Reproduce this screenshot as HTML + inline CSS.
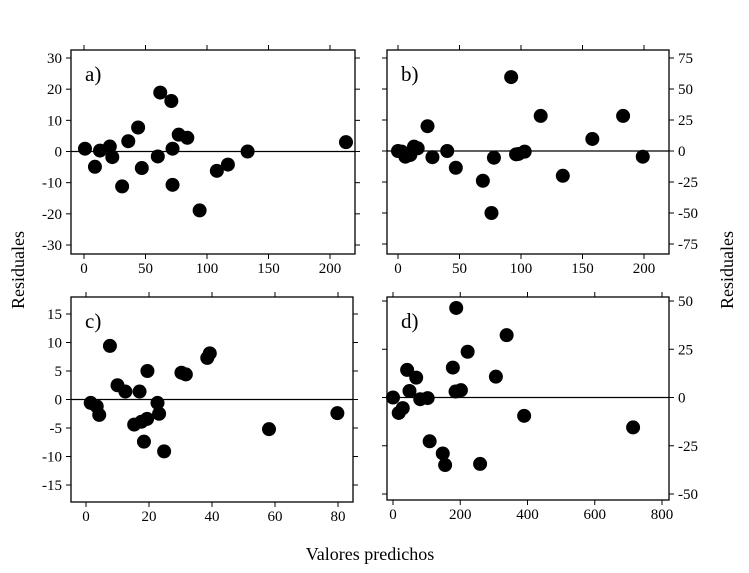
<!DOCTYPE html>
<html><head><meta charset="utf-8"><style>
body{margin:0;background:#fff;}
svg{display:block;font-family:"Liberation Serif",serif;}
</style></head><body>
<svg id="chart" width="749" height="573" viewBox="0 0 749 573" xmlns="http://www.w3.org/2000/svg">
<text x="0" y="0" transform="translate(24,270) rotate(-90)" text-anchor="middle" font-size="18">Residuales</text>
<text x="0" y="0" transform="translate(733,270) rotate(-90)" text-anchor="middle" font-size="18">Residuales</text>
<text x="370" y="560" text-anchor="middle" font-size="18">Valores predichos</text>
</svg>
<script>
const aX=[0.8,8.9,13,21,23,31,36,44,47,60,62,71,72,72,77,84,94,108,117,133,213];
const aY=[0.9,-4.9,0.3,1.6,-1.8,-11.2,3.3,7.7,-5.3,-1.6,18.9,16.2,0.9,-10.7,5.4,4.4,-18.9,-6.2,-4.2,0,3.0];
const bX=[0,3,6,10,13,16,24,28,40,47,69,76,78,92,96,98,103,116,134,158,183,199];
const bY=[0,-0.5,-4.6,-3.2,3.5,2.2,20,-5,0,-13.5,-24,-50,-5.4,59.6,-2.7,-2.4,-0.5,28.3,-20,9.7,28.3,-4.6];
const cX=[1.5,3.4,4.2,7.6,10,12.5,17,15.3,17.6,19.4,18.4,19.5,22.7,23.2,24.8,30.3,31.7,38.5,39.3,58.1,79.8];
const cY=[-0.6,-1.2,-2.7,9.4,2.5,1.4,1.4,-4.4,-3.9,-3.4,-7.4,5.0,-0.6,-2.5,-9.1,4.7,4.4,7.3,8.1,-5.2,-2.4];
const dX=[0,17,29,42,49,69,81,103,109,148,155,178,186,188,202,222,259,306,338,390,714];
const dY=[0,-8,-5.5,14.3,3.4,10.3,-0.9,-0.3,-22.7,-29,-35,15.5,3.1,46.4,3.8,23.7,-34.4,10.8,32.3,-9.5,-15.5];
const aXT=[0,50,100,150,200], aYT=[30,20,10,0,-10,-20,-30];
const bXT=[0,50,100,150,200], bYT=[75,50,25,0,-25,-50,-75];
const cXT=[0,20,40,60,80], cYT=[15,10,5,0,-5,-10,-15];
const dXT=[0,200,400,600,800], dYT=[50,25,0,-25,-50];

const NS="http://www.w3.org/2000/svg";
const svg=document.getElementById('chart');
function mk(t,a){const e=document.createElementNS(NS,t);for(const k in a)e.setAttribute(k,a[k]);svg.appendChild(e);return e;}
function panel(p){
  const sx=v=>p.x0+(v-p.xv0)/(p.xv1-p.xv0)*(p.x1-p.x0);
  const sy=v=>p.y0+(v-p.yv0)/(p.yv1-p.yv0)*(p.y1-p.y0);
  const box=mk('rect',{x:p.L,y:p.T,width:p.R-p.L,height:p.B-p.T,fill:'none',stroke:'#000','stroke-width':1.3});
  
  
  const z=mk('line',{x1:p.L,x2:p.R,y1:sy(0),y2:sy(0),stroke:'#000','stroke-width':1.3});
  
  
  p.xt.forEach(v=>{
    const x=sx(v);
    mk('line',{x1:x,x2:x,y1:p.B,y2:p.B+5,stroke:'#000'});
    mk('line',{x1:x,x2:x,y1:p.T,y2:p.T-5,stroke:'#000'});
    const t=mk('text',{x:x,y:p.B+19,'text-anchor':'middle','font-size':15});
    t.textContent=v;
    
    
  });
  p.yt.forEach(v=>{
    const y=sy(v);
    mk('line',{x1:p.L,x2:p.L-5,y1:y,y2:y,stroke:'#000'});
    mk('line',{x1:p.R,x2:p.R+5,y1:y,y2:y,stroke:'#000'});
    const t=mk('text',{x:p.left?p.L-9:p.R+9,y:y+5,'text-anchor':p.left?'end':'start','font-size':15});
    t.textContent=v;
    
    
  });
  const lab=mk('text',{x:p.L+14,y:p.T+31,'font-size':21});
  lab.textContent=p.id+')';
  
  
  p.X.forEach((v,i)=>{
    const c=mk('circle',{cx:sx(v),cy:sy(p.Y[i]),r:7,fill:'#000'});
    
    
  });
}
panel({id:'a',L:71,R:355,T:50,B:254,x0:84,x1:330,xv0:0,xv1:200,y0:58,y1:245,yv0:30,yv1:-30,xt:aXT,yt:aYT,X:aX,Y:aY,left:true});
panel({id:'b',L:387,R:669,T:50,B:254,x0:398,x1:644,xv0:0,xv1:200,y0:58,y1:244,yv0:75,yv1:-75,xt:bXT,yt:bYT,X:bX,Y:bY,left:false});
panel({id:'c',L:71,R:353,T:297,B:502,x0:86,x1:338,xv0:0,xv1:80,y0:314,y1:485,yv0:15,yv1:-15,xt:cXT,yt:cYT,X:cX,Y:cY,left:true});
panel({id:'d',L:387,R:669,T:297,B:500,x0:393,x1:662,xv0:0,xv1:800,y0:301,y1:494,yv0:50,yv1:-50,xt:dXT,yt:dYT,X:dX,Y:dY,left:false});
</script>
</body></html>
